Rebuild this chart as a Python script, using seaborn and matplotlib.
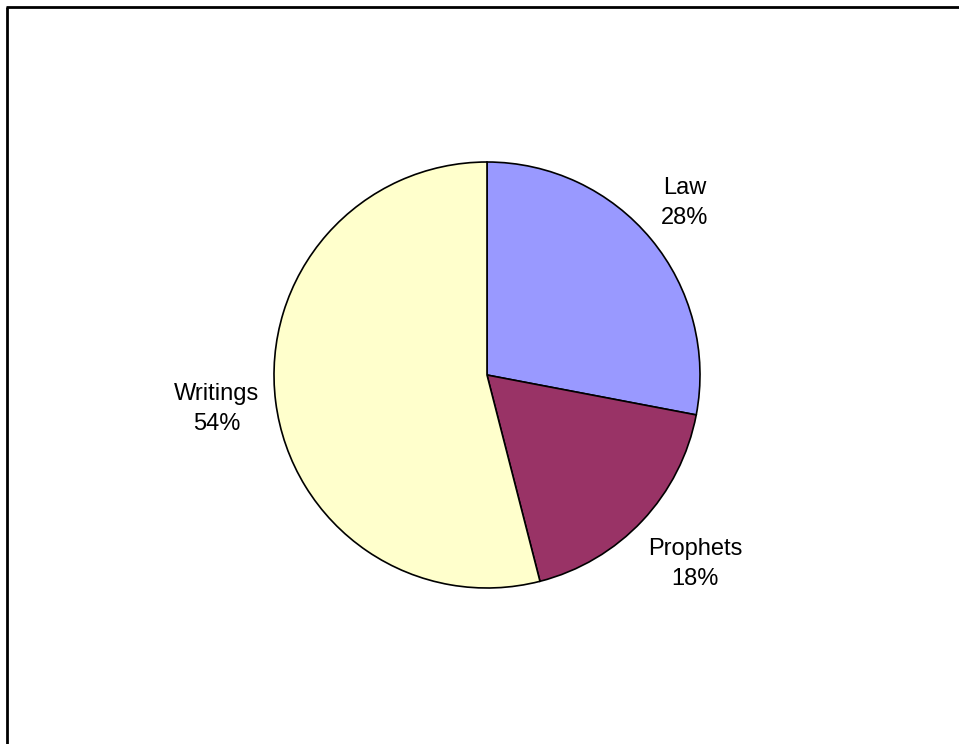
import numpy as np
import matplotlib
matplotlib.use("Agg")
import matplotlib.pyplot as plt
import seaborn as sns

# Share of books by section
categories = ["Law", "Prophets", "Writings"]
shares = [28, 18, 54]
colors = ["#9999FF", "#993366", "#FFFFCC"]

sns.set_style("white")
plt.rcParams["font.family"] = ["Liberation Sans", "DejaVu Sans"]

W, H = 959, 744
fig = plt.figure(figsize=(W / 100, H / 100), dpi=100)
ax = fig.add_axes([0, 0, 1, 1])

cx, cy, r = 487, H - 375, 213
palette = sns.color_palette(colors)
wedges, _ = ax.pie(
    shares,
    colors=palette,
    startangle=90,
    counterclock=False,
    center=(cx, cy),
    radius=r,
    frame=True,
    wedgeprops=dict(edgecolor="black", linewidth=1.2),
)
ax.set_xlim(0, W)
ax.set_ylim(0, H)
ax.set_aspect("equal")
ax.axis("off")

# label distances (in radii) and angular nudges (deg) for each slice
dists = [1.23, 1.32, 1.28]
nudges = [1.5, 1.0, 0.0]
for w, name, val, d, nd in zip(wedges, categories, shares, dists, nudges):
    mid = np.deg2rad((w.theta1 + w.theta2) / 2 + nd)
    x = cx + d * r * np.cos(mid)
    y = cy + d * r * np.sin(mid)
    ax.text(x, y, f"{name}\n{val}%", ha="center", va="center",
            fontsize=17, color="black", linespacing=1.5)

# outer frame
ax.plot([6, W], [H - 7, H - 7], color="black", lw=2, solid_capstyle="butt",
        clip_on=False)
ax.plot([7, 7], [H - 7, 0], color="black", lw=2, solid_capstyle="butt",
        clip_on=False)

fig.savefig("out.png", dpi=100)
